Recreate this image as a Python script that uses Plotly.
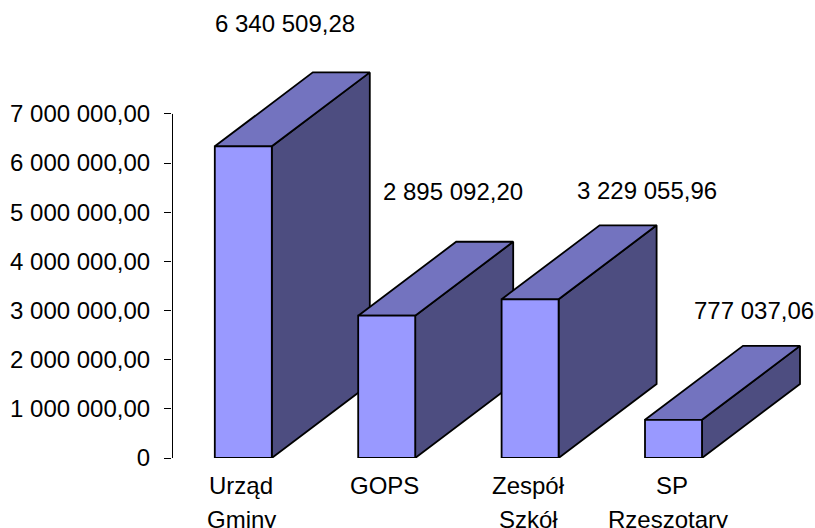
import plotly.graph_objects as go

categories = ["Urząd<br>Gminy", "GOPS", "Zespół<br>Szkół", "SP<br>Rzeszotary"]
cat_line1 = ["Urząd", "GOPS", "Zespół", "SP"]
cat_line2 = ["Gminy", "", "Szkół", "Rzeszotary"]
values = [6340509.28, 2895092.20, 3229055.96, 777037.06]
value_labels = ["6 340 509,28", "2 895 092,20", "3 229 055,96", "777 037,06"]
y_ticks = [0, 1e6, 2e6, 3e6, 4e6, 5e6, 6e6, 7e6]
y_tick_labels = ["0", "1 000 000,00", "2 000 000,00", "3 000 000,00",
                 "4 000 000,00", "5 000 000,00", "6 000 000,00", "7 000 000,00"]

W, H = 815, 528
LEFT, BASE = 172, 458.3
PX_PER_CAT = 143.4
PX_PER_UNIT = 344.3 / 7e6
X0 = 243.3
xmin = (LEFT - X0) / PX_PER_CAT
xmax = (W - X0) / PX_PER_CAT
ymax = BASE / PX_PER_UNIT
half = 28.5 / PX_PER_CAT
dx = 98 / PX_PER_CAT
dy = 74 / PX_PER_UNIT

FRONT, TOP, SIDE = "#9999FF", "#7373BF", "#4D4D80"
FONT = "Liberation Sans, Arial, sans-serif"
FS = 24

fig = go.Figure()


def poly(xs, ys, color):
    fig.add_trace(go.Scatter(x=xs, y=ys, mode="lines", fill="toself", fillcolor=color,
                             line=dict(color="black", width=1.8), hoverinfo="skip",
                             showlegend=False))


for i, v in enumerate(values):
    l, r = i - half, i + half
    poly([r, r + dx, r + dx, r, r], [0, dy, v + dy, v, 0], SIDE)
    poly([l, r, r + dx, l + dx, l], [v, v, v + dy, v + dy, v], TOP)
    poly([l, r, r, l, l], [0, 0, v, v, 0], FRONT)

# Value-axis line runs only as far as the top tick
axis_x = xmin + 0.5 / PX_PER_CAT
fig.add_trace(go.Scatter(x=[axis_x, axis_x], y=[y_ticks[0], y_ticks[-1]], mode="lines",
                         line=dict(color="black", width=1), hoverinfo="skip",
                         showlegend=False, cliponaxis=False))

label_dx = [42, 66, 117, 80]
label_dy = [49, 50, 35, 35]
line2_dx = [-2, 0, -2, -6]
for i, v in enumerate(values):
    fig.add_annotation(x=i, y=v + dy, text=value_labels[i], showarrow=False,
                       xshift=label_dx[i], yshift=label_dy[i],
                       font=dict(family=FONT, size=FS, color="black"))
    fig.add_annotation(x=i, y=0, text=cat_line1[i], showarrow=False, xshift=-2, yshift=-27,
                       font=dict(family=FONT, size=FS, color="black"))
    if cat_line2[i]:
        fig.add_annotation(x=i, y=0, text=cat_line2[i], showarrow=False, xshift=line2_dx[i],
                           yshift=-61, font=dict(family=FONT, size=FS, color="black"))

fig.update_layout(
    width=W, height=H, autosize=False,
    margin=dict(l=LEFT, r=0, t=0, b=H - BASE, pad=0),
    paper_bgcolor="white", plot_bgcolor="white",
    showlegend=False,
    font=dict(family=FONT, size=FS, color="black"),
    xaxis=dict(range=[xmin, xmax], showgrid=False, zeroline=False, showline=False,
               showticklabels=False, ticks=""),
    yaxis=dict(range=[0, ymax], tickvals=y_ticks, ticktext=y_tick_labels, showgrid=False,
               zeroline=False, showline=False, ticks="outside", ticklen=7, tickwidth=1,
               tickcolor="black", ticklabelstandoff=9,
               tickfont=dict(family=FONT, size=FS, color="black")),
)
fig.write_html("out.html", default_width=f"{W}px", default_height=f"{H}px",
               config={"displayModeBar": False},
               post_script="document.body.style.margin='0';"
                           "document.documentElement.style.overflow='hidden';")
